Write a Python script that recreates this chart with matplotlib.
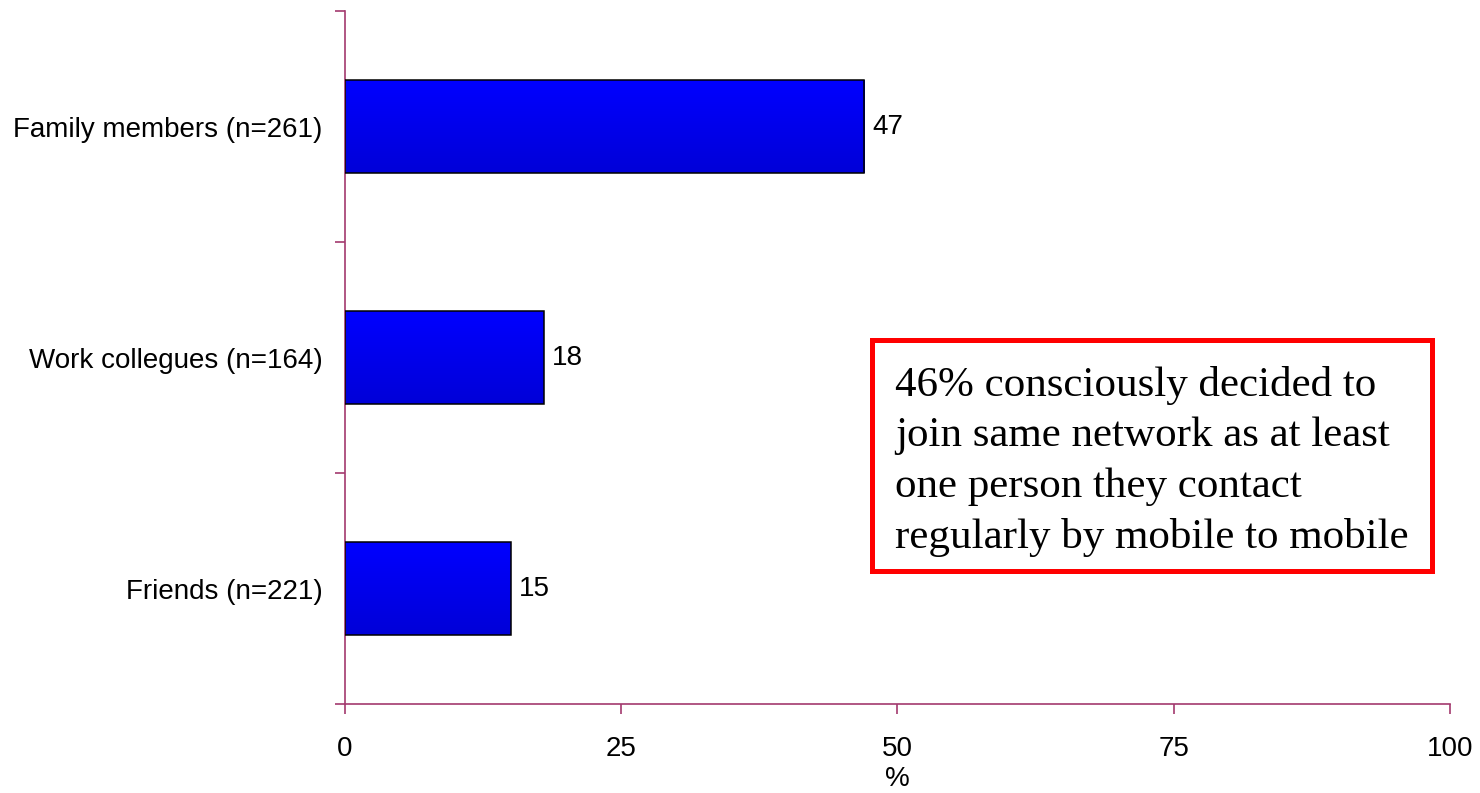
import numpy as np
import matplotlib
matplotlib.use('Agg')
import matplotlib.pyplot as plt
from matplotlib.patches import Rectangle

# data, top to bottom
categories = ['Family members (n=261)', 'Work collegues (n=164)', 'Friends (n=221)']
values = [47, 18, 15]
x_ticks = [0, 25, 50, 75, 100]
note = ('46% consciously decided to\njoin same network as at least\n'
        'one person they contact\nregularly by mobile to mobile')

axis_col = '#A33A6E'
plt.rcParams['font.family'] = ['Liberation Sans', 'DejaVu Sans']

fig = plt.figure(figsize=(14.8, 7.93), dpi=100)
ax = fig.add_axes([0.2331, 0.1122, 0.7466, 0.8739])

ypos = np.arange(len(categories))[::-1]
bar_h = 0.4
grad = np.linspace(0, 1, 64).reshape(-1, 1)
cmap = matplotlib.colors.LinearSegmentedColormap.from_list('b', ['#0000FF', '#0000D8'])
for y, v in zip(ypos, values):
    ax.imshow(grad, cmap=cmap, aspect='auto', origin='upper',
              extent=[0, v, y - bar_h / 2, y + bar_h / 2], zorder=2)
    ax.add_patch(Rectangle((0, y - bar_h / 2), v, bar_h, fill=False,
                           edgecolor='black', linewidth=1.1, zorder=3))
    ax.text(v + 0.75, y, str(v), va='center', ha='left', fontsize=20)

ax.set_xlim(0, 100)
ax.set_ylim(-0.5, 2.5)
ax.set_xticks(x_ticks)
ax.set_xticklabels([str(t) for t in x_ticks], fontsize=20)
ax.set_yticks(ypos)
ax.set_yticklabels(categories, fontsize=20)
ax.set_yticks([-0.5, 0.5, 1.5, 2.5], minor=True)
ax.tick_params(axis='y', which='major', length=0, pad=16)
ax.tick_params(axis='y', which='minor', length=7, color=axis_col, width=1.2)
ax.tick_params(axis='x', length=7, color=axis_col, width=1.2, pad=16)
ax.set_xlabel('%', fontsize=20, labelpad=3)

for s in ['top', 'right']:
    ax.spines[s].set_visible(False)
for s in ['left', 'bottom']:
    ax.spines[s].set_color(axis_col)
    ax.spines[s].set_linewidth(1.2)

# annotation box
ax.add_patch(Rectangle((47.7, 0.078), 98.4 - 47.7, 1.078 - 0.078, fill=False,
                       edgecolor='#FF0000', linewidth=3.6, zorder=4))
ax.text(49.8, 0.55, note, fontsize=31, family=['Liberation Serif'],
        va='center', ha='left', linespacing=1.40, zorder=5)

fig.savefig('out.png', dpi=100)
